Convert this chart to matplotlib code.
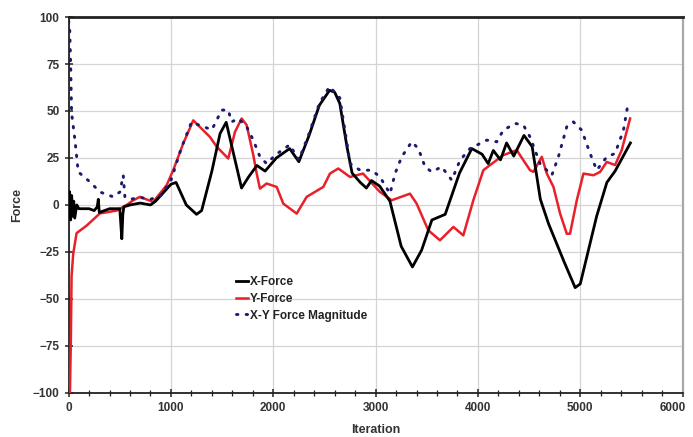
import matplotlib
matplotlib.use("Agg")
import matplotlib.pyplot as plt
from matplotlib.ticker import MultipleLocator, FuncFormatter

plt.rcParams['font.family'] = ['Liberation Sans', 'DejaVu Sans']

# X-Force (black)
x_iter = [0, 10, 20, 30, 40, 50, 60, 80, 100, 200, 250, 280, 290, 300, 400, 500, 520, 530,
          540, 600, 700, 800, 850, 900, 950, 1000, 1050, 1100, 1150, 1250, 1300, 1400, 1480,
          1540, 1600, 1690, 1760, 1840, 1920, 2030, 2160, 2250, 2350, 2450, 2550, 2600, 2650,
          2720, 2770, 2850, 2910, 2960, 3040, 3140, 3250, 3360, 3450, 3550, 3680, 3820, 3940,
          4040, 4100, 4150, 4220, 4280, 4350, 4450, 4530, 4610, 4690, 4840, 4950, 5000, 5160,
          5260, 5340, 5490]
x_force = [0, 7, -8, 5, -6, 2, -7, 0, -2, -2, -3, -1, 3, -4, -2, -2, -18, -5,
           -1, 0, 1, 0, 2, 5, 8, 11, 12, 6, 0, -5, -3, 18, 38,
           44, 30, 9, 15, 21, 18, 25, 30, 23, 37, 53, 61, 60, 54,
           31, 17, 12, 9, 13, 10, 2, -22, -33, -24, -8, -5, 17, 30,
           27, 22, 29, 24, 33, 26, 37, 31, 3, -10, -30, -44, -42, -6,
           12, 18, 33]

# Y-Force (red)
y_iter = [0, 13, 22, 29, 45, 78, 176, 306, 469, 567, 632, 697, 826, 958, 1022, 1120, 1218,
          1381, 1447, 1560, 1626, 1691, 1740, 1805, 1838, 1870, 1935, 2033, 2098, 2229, 2326,
          2489, 2554, 2635, 2750, 2877, 3043, 3157, 3336, 3401, 3515, 3629, 3760, 3857, 3955,
          4053, 4118, 4248, 4379, 4444, 4509, 4542, 4624, 4673, 4738, 4803, 4868, 4900, 4966,
          5031, 5129, 5194, 5259, 5340, 5405, 5487]
y_force = [-100, -100, -72, -38, -26, -15, -11, -4.5, -3, 0, 2.5, 4.3, 1.6, 10.5, 18.5, 32.7, 45,
           36.2, 31, 24.7, 38.9, 46, 42.5, 26.5, 16.7, 8.7, 11.4, 9.6, 0.7, -4.6, 4.3,
           9.6, 16.7, 19.4, 14.9, 16.7, 6.9, 2.5, 6, 0.7, -13.5, -18.8, -11.7, -16.2, 2.5,
           18.5, 21.2, 26.5, 29.2, 23.8, 18.5, 17.6, 25.6, 16.7, 9.6, -4.6, -15.3, -15.3, 2.5,
           16.7, 15.8, 17.6, 22.9, 21.2, 29.2, 46]

# X-Y Force Magnitude (navy, dotted)
m_iter = [0, 10, 20, 29, 62, 94, 208, 306, 436, 501, 534, 550, 600, 700, 800, 900, 1000,
          1100, 1200, 1300, 1400, 1496, 1560, 1593, 1658, 1740, 1805, 1870, 1935, 2030, 2160,
          2250, 2350, 2450, 2550, 2650, 2720, 2750, 2848, 2962, 3043, 3141, 3190, 3255, 3353,
          3418, 3483, 3548, 3646, 3744, 3825, 3923, 4086, 4184, 4248, 4363, 4444, 4509, 4607,
          4722, 4786, 4868, 4933, 5014, 5096, 5161, 5259, 5340, 5422, 5470]
magnitude = [98, 95, 75, 49, 34.5, 17.6, 12.3, 6.9, 4.3, 6.9, 15.8, 4.3, 3, 4, 3, 5, 13,
             30, 44, 42, 40, 50.5, 50.5, 44.2, 46, 41.6, 34.5, 25.6, 22, 27, 32,
             24, 38, 54, 63, 57, 33, 22, 18.5, 18.5, 14.9, 6, 16.7, 25.6, 33.6,
             30, 20.3, 17.6, 20.3, 13.2, 23.8, 30, 34.5, 33.6, 39.8, 43.4, 42.5, 36.2, 22,
             15.8, 25.6, 41.6, 44.2, 39.8, 27.4, 18.5, 25.6, 27.4, 39.8, 54.9]

X_MAX = 6000

fig = plt.figure(figsize=(6.93, 4.37), dpi=100)
ax = fig.add_axes([0.099, 0.101, 0.886, 0.860])

ax.plot(x_iter, x_force, color='black', lw=2.0, label='X-Force', zorder=4)
ax.plot(y_iter, y_force, color='#e8202a', lw=1.8, label='Y-Force', zorder=3)
ax.plot(m_iter, magnitude, color='#1a1a6e', lw=2.1, linestyle=(0, (0.5, 2.8)),
        dash_capstyle='round', label='X-Y Force Magnitude', zorder=5)

ax.set_xlim(0, X_MAX)
ax.set_ylim(-100, 100)
ax.xaxis.set_major_locator(MultipleLocator(1000))
ax.xaxis.set_minor_locator(MultipleLocator(200))
ax.yaxis.set_major_locator(MultipleLocator(25))
# the last x label is drawn separately, nudged left so it stays on the canvas
ax.xaxis.set_major_formatter(FuncFormatter(lambda v, p: '' if v >= X_MAX else f'{v:.0f}'))

ax.grid(True, which='major', color='#d4d4d4', lw=0.9)
ax.set_axisbelow(True)

ax.tick_params(axis='both', which='major', direction='inout', length=6, width=1.1,
               labelsize=8.5, colors='#222222', labelcolor='#333333')
ax.tick_params(axis='x', which='minor', direction='inout', length=4, width=0.9,
               colors='#222222')
for lab in ax.get_xticklabels() + ax.get_yticklabels():
    lab.set_fontweight('bold')

ax.annotate(f'{X_MAX}', xy=(X_MAX, -100), xycoords='data',
            xytext=(-7, -6.5), textcoords='offset points',
            ha='center', va='top', fontsize=8.5, fontweight='bold', color='#333333',
            annotation_clip=False)

ax.spines['top'].set_linewidth(2.0)
ax.spines['top'].set_color('#222222')
ax.spines['left'].set_linewidth(1.3)
ax.spines['left'].set_color('#222222')
ax.spines['bottom'].set_linewidth(1.3)
ax.spines['bottom'].set_color('#222222')
ax.spines['right'].set_linewidth(1.6)
ax.spines['right'].set_color('#a8a8a8')

ax.set_xlabel('Iteration', fontsize=9, fontweight='bold', color='#333333', labelpad=7)
ax.set_ylabel('Force', fontsize=9, fontweight='bold', color='#333333', labelpad=7)

leg = ax.legend(loc='upper left', bbox_to_anchor=(0.255, 0.34), frameon=False,
                handlelength=1.0, handletextpad=0.2, labelspacing=0.42,
                prop={'weight': 'bold', 'size': 8.5})
for t in leg.get_texts():
    t.set_color('#222222')

fig.savefig('out.png', dpi=100)
